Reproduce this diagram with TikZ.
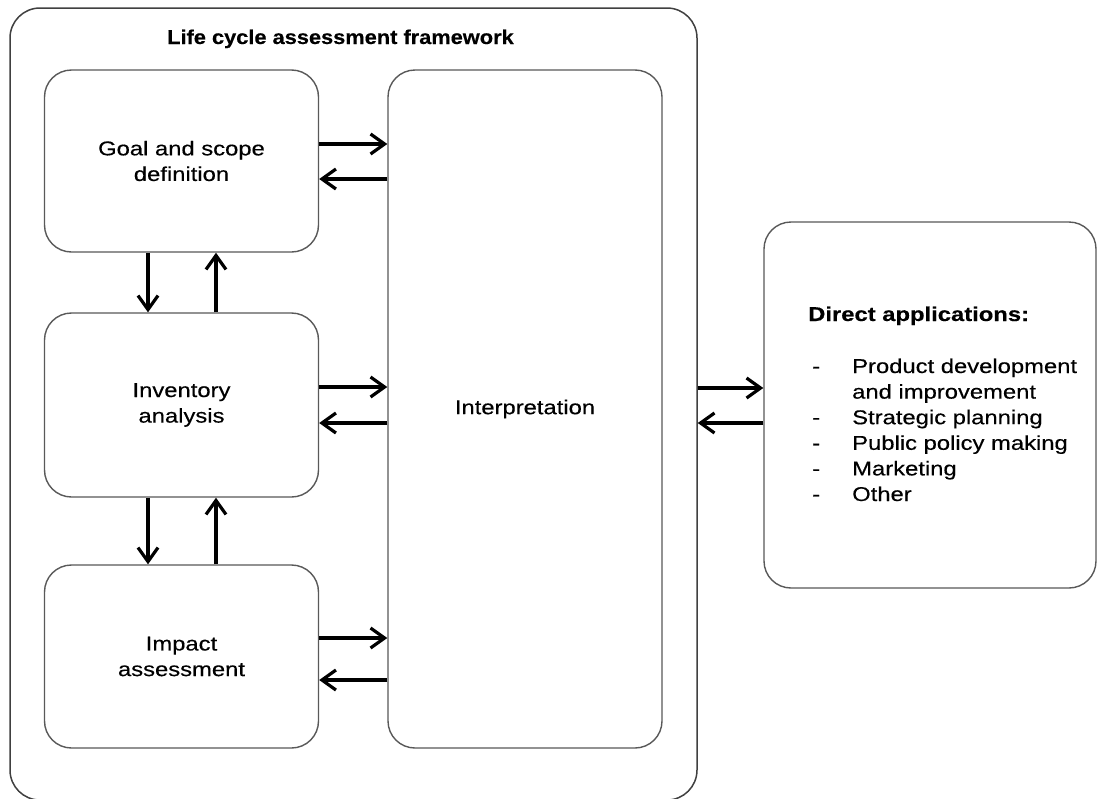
\documentclass[tikz,border=0pt]{standalone}
\usepackage{fontspec}
\setmainfont[FakeStretch=1.19,FakeBold=0.35]{Liberation Sans}
\newfontfamily\titlefont[FakeStretch=1.09,FakeBold=0.35]{Liberation Sans}
\usetikzlibrary{arrows.meta}
\begin{document}
\begin{tikzpicture}[x=1pt,y=-1pt,
  every node/.style={font=\fontsize{20}{25.6}\selectfont},
  box/.style={draw=black!65, line width=1.4pt, rounded corners=27pt, align=center, inner sep=0pt},
  outerbox/.style={draw=black!75, line width=1.5pt, rounded corners=30pt, inner sep=0pt},
  arr/.style={line width=3.2pt, -{Straight Barb[length=14pt,width=20pt,line width=3.2pt]}},
  lbl/.style={anchor=base west, inner sep=0pt}
]
\useasboundingbox (0,0) rectangle (1097,798);
\clip (0,0) rectangle (1097,798);
\fill[white] (0,0) rectangle (1097,798);
% outer framework box
\node[outerbox, minimum width=687pt, minimum height=792pt] (outer) at (353.5,404) {};
\node[lbl, font=\fontsize{20}{25.6}\titlefont\bfseries] (title) at (167,44) {Life cycle assessment framework};
% inner boxes
\node[box, minimum width=274pt, minimum height=182pt] (goal) at (181.5,161) {Goal and scope\\definition};
\node[box, minimum width=274pt, minimum height=184pt] (inv) at (181.5,405) {Inventory\\analysis};
\node[box, minimum width=274pt, minimum height=183pt] (imp) at (181.5,656.5) {Impact\\assessment};
\node[box, minimum width=274pt, minimum height=678pt] (interp) at (525,409) {Interpretation};
% direct applications box
\node[box, minimum width=332pt, minimum height=366pt] (direct) at (930,405) {};
\node[lbl, font=\fontsize{20}{25.6}\selectfont\bfseries] (dtitle) at (808,321) {Direct applications:};
\node[lbl] (d1) at (812,373) {-};
\node[lbl] (t1) at (852,373) {Product development};
\node[lbl] (t1b) at (852,398.6) {and improvement};
\node[lbl] (d2) at (812,424.2) {-};
\node[lbl] (t2) at (852,424.2) {Strategic planning};
\node[lbl] (d3) at (812,449.8) {-};
\node[lbl] (t3) at (852,449.8) {Public policy making};
\node[lbl] (d4) at (812,475.4) {-};
\node[lbl] (t4) at (852,475.4) {Marketing};
\node[lbl] (d5) at (812,501) {-};
\node[lbl] (t5) at (852,501) {Other};
% horizontal arrows to/from interpretation
\draw[arr] ([yshift=17pt]goal.east) -- ([yshift=17pt]goal.east -| interp.west);
\draw[arr] ([yshift=-18pt]goal.east -| interp.west) -- ([yshift=-18pt]goal.east);
\draw[arr] ([yshift=18pt]inv.east) -- ([yshift=18pt]inv.east -| interp.west);
\draw[arr] ([yshift=-18pt]inv.east -| interp.west) -- ([yshift=-18pt]inv.east);
\draw[arr] ([yshift=18.5pt]imp.east) -- ([yshift=18.5pt]imp.east -| interp.west);
\draw[arr] ([yshift=-23.5pt]imp.east -| interp.west) -- ([yshift=-23.5pt]imp.east);
% vertical arrows
\draw[arr] ([xshift=-33.5pt]goal.south) -- ([xshift=-33.5pt]inv.north);
\draw[arr] ([xshift=34.5pt]inv.north) -- ([xshift=34.5pt]goal.south);
\draw[arr] ([xshift=-33.5pt]inv.south) -- ([xshift=-33.5pt]imp.north);
\draw[arr] ([xshift=34.5pt]imp.north) -- ([xshift=34.5pt]inv.south);
% framework <-> direct applications
\draw[arr] ([yshift=17pt]direct.west -| outer.east) -- ([yshift=17pt]direct.west);
\draw[arr] ([yshift=-18pt]direct.west) -- ([yshift=-18pt]direct.west -| outer.east);
\end{tikzpicture}
\end{document}
